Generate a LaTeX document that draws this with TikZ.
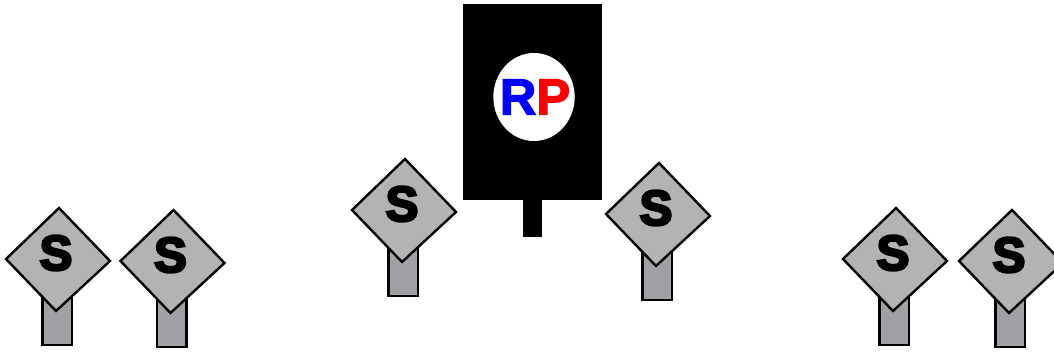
\documentclass[tikz,border=0pt]{standalone}
\usepackage{fontspec}
\setmainfont{Liberation Sans}
\newfontfamily\signfont[FakeBold=5]{Liberation Sans Bold}
\newfontfamily\rpfont[FakeBold=2.5]{Liberation Sans Bold}
\usetikzlibrary{shapes.geometric}
\definecolor{signgray}{HTML}{B3B3B3}
\definecolor{postgray}{HTML}{A0A0A5}
\tikzset{
    signpost/.style={draw=black, line width=1.8pt, fill=postgray},
    signplate/.style={draw=black, line width=1.8pt, fill=signgray, line join=miter},
    signlabel/.style={inner sep=0pt, font=\signfont\fontsize{37}{37}\selectfont},
    rpbody/.style={fill=black, draw=black}
}
\begin{document}
\begin{tikzpicture}[x=0.75pt, y=-0.75pt]
    \useasboundingbox (0, 0) rectangle (1054, 352);

    % Central RP unit
    \draw[rpbody] (463, 4) rectangle (601, 199);
    \draw[rpbody] (523, 199) rectangle (541, 236);
    \node[ellipse, fill=white, minimum width=61pt, minimum height=66pt, inner sep=0pt] (rpdisc) at (534, 97) {};
    \node[inner sep=0pt, font=\rpfont\fontsize{38}{38}\selectfont] (rp) at (535, 97)
        {\textcolor{blue}{R}\textcolor{red}{P}};

    % S units, all drawn from the first one
    \foreach \dx/\dy/\name in {0/0/a, 114.5/2/b, 346/-49/c, 600/-45/d, 837/0/e, 953/2/f} {
        \begin{scope}[shift={(\dx, \dy)}]
            \draw[signpost] (42.5, 290) rectangle (72, 345);
            \draw[signplate] (6, 259) -- (59, 208) -- (110, 261) -- (56, 311) -- cycle;
            \node[signlabel] (s\name) at (56, 253) {S};
        \end{scope}
    }
\end{tikzpicture}
\end{document}
